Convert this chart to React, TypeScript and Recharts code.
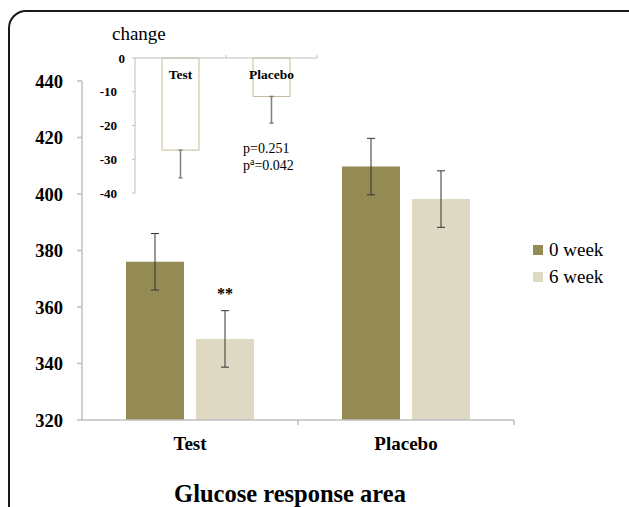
import { BarChart, Bar, XAxis, YAxis, ErrorBar, LabelList, Legend } from "recharts";

const SERIF = "'Liberation Serif', 'Times New Roman', serif";

// main chart: glucose response area
const groups = ["Test", "Placebo"];
const week0 = [376, 409.7];
const week6 = [348.7, 398.2];
const week0Err = [10, 10];
const week6Err = [10, 10];
const sigMarks = ["**", ""];
const mainTicks = [320, 340, 360, 380, 400, 420, 440];

// inset: change from 0 to 6 week
const changeValues = [-27.3, -11.4];
const changeErrDown = [8.2, 7.9];
const insetTicks = [-40, -30, -20, -10, 0];

const mainData = groups.map((g, i) => ({
  name: g,
  w0: week0[i],
  w6: week6[i],
  w0Err: week0Err[i],
  w6Err: week6Err[i],
  sig: sigMarks[i],
}));

const insetData = groups.map((g, i) => ({
  name: g,
  change: changeValues[i],
  err: [changeErrDown[i], 0],
}));

const AXIS_GREY = "#bfbfbf";

function MainXTick(props: any) {
  const { x, y, payload } = props;
  return (
    <g>
      <text x={x} y={y + 30} textAnchor="middle" fontFamily={SERIF} fontWeight="bold" fontSize={19} fill="#000">
        {payload.value}
      </text>
      <line x1={x + 108} x2={x + 108} y1={y} y2={y + 5} stroke={AXIS_GREY} strokeWidth={1.5} />
    </g>
  );
}

function InsetXTick(props: any) {
  const { x, y, payload } = props;
  return (
    <g>
      <text x={x} y={y + 20.5} textAnchor="middle" fontFamily={SERIF} fontWeight="bold" fontSize={13.5} fill="#000">
        {payload.value}
      </text>
      <line x1={x + 45.5} x2={x + 45.5} y1={y} y2={y - 3} stroke={AXIS_GREY} strokeWidth={1} />
    </g>
  );
}

function InsetYTick(props: any) {
  const { x, y, payload } = props;
  const shift = payload.value < 0 ? -8 : 0;
  return (
    <text x={x + shift} y={y} dy="0.35em" textAnchor="end" fontFamily={SERIF} fontWeight="bold" fontSize={13} fill="#000">
      {payload.value}
    </text>
  );
}

function LegendBox(props: any) {
  const { payload } = props;
  return (
    <div style={{ fontFamily: SERIF, fontSize: 19, color: "#000" }}>
      {(payload || []).map((p: any) => (
        <div key={p.value} style={{ display: "flex", alignItems: "center", height: 27 }}>
          <span style={{ display: "inline-block", width: 10, height: 10, background: p.color, marginRight: 6 }} />
          <span>{p.value}</span>
        </div>
      ))}
    </div>
  );
}

export default function App() {
  return (
    <div
      style={{
        position: "absolute",
        left: 0,
        top: 0,
        width: 629,
        height: 507,
        overflow: "hidden",
        background: "#fff",
        fontFamily: SERIF,
      }}
    >
      <div
        style={{
          position: "absolute",
          left: 8,
          top: 10,
          width: 660,
          height: 600,
          border: "2px solid #1a1a1a",
          borderRadius: 18,
        }}
      />

      <div style={{ position: "absolute", left: 0, top: 0 }}>
        <BarChart
          width={629}
          height={507}
          data={mainData}
          margin={{ top: 81, right: 115, bottom: 57, left: 22 }}
          barSize={58}
          barGap={12}
        >
          <XAxis
            dataKey="name"
            height={30}
            axisLine={{ stroke: AXIS_GREY, strokeWidth: 1.5 }}
            tickLine={false}
            tickSize={0}
            tickMargin={0}
            tick={(p: any) => <MainXTick {...p} />}
          />
          <YAxis
            width={60}
            domain={[320, 440]}
            ticks={mainTicks}
            interval={0}
            axisLine={{ stroke: AXIS_GREY, strokeWidth: 1.5 }}
            tickLine={{ stroke: AXIS_GREY, strokeWidth: 1.5 }}
            tickSize={5}
            tickMargin={14}
            tick={{ fill: "#000", fontSize: 18.5, fontWeight: "bold", fontFamily: SERIF }}
          />
          <Legend
            layout="horizontal"
            align="center"
            verticalAlign="middle"
            wrapperStyle={{ left: 533, top: 236, width: "auto", height: "auto" }}
            content={(p: any) => <LegendBox {...p} />}
          />
          <Bar dataKey="w0" name="0 week" fill="#948a54" isAnimationActive={false}>
            <ErrorBar dataKey="w0Err" width={4} stroke="#333" strokeWidth={1} />
          </Bar>
          <Bar dataKey="w6" name="6 week" fill="#ddd9c3" isAnimationActive={false}>
            <ErrorBar dataKey="w6Err" width={4} stroke="#333" strokeWidth={1} />
            <LabelList
              dataKey="sig"
              position="top"
              offset={40}
              fill="#000"
              fontSize={16}
              fontWeight="bold"
              fontFamily={SERIF}
            />
          </Bar>
        </BarChart>
      </div>

      <div style={{ position: "absolute", left: 0, top: 0 }}>
        <BarChart
          width={340}
          height={210}
          data={insetData}
          margin={{ top: 38, right: 23, bottom: 17, left: 95 }}
          barSize={37}
        >
          <XAxis
            dataKey="name"
            orientation="top"
            height={20}
            axisLine={{ stroke: AXIS_GREY, strokeWidth: 1 }}
            tickLine={false}
            tickSize={0}
            tickMargin={0}
            tick={(p: any) => <InsetXTick {...p} />}
          />
          <YAxis
            width={40}
            domain={[-40, 0]}
            ticks={insetTicks}
            interval={0}
            axisLine={{ stroke: AXIS_GREY, strokeWidth: 1 }}
            tickLine={{ stroke: AXIS_GREY, strokeWidth: 1 }}
            tickSize={3}
            tickMargin={7}
            tick={(p: any) => <InsetYTick {...p} />}
          />
          <Bar dataKey="change" fill="#fff" stroke="#c4bd97" strokeWidth={1} isAnimationActive={false}>
            <ErrorBar dataKey="err" width={2} stroke="#7f7f7f" strokeWidth={1.5} />
          </Bar>
        </BarChart>
      </div>

      <svg width={629} height={507} style={{ position: "absolute", left: 0, top: 0, pointerEvents: "none" }}>
        <text x={112} y={40} fontFamily={SERIF} fontSize={19} fill="#000">
          change
        </text>
        <text x={243} y={153} fontFamily={SERIF} fontSize={14} fill="#000">
          p=0.251
        </text>
        <text x={243} y={170} fontFamily={SERIF} fontSize={14} fill="#000">
          p<tspan dy={-5} fontSize={10}>a</tspan>
          <tspan dy={5}>=0.042</tspan>
        </text>
        <text x={290} y={502} textAnchor="middle" fontFamily={SERIF} fontWeight="bold" fontSize={24.5} fill="#000">
          Glucose response area
        </text>
      </svg>
    </div>
  );
}
